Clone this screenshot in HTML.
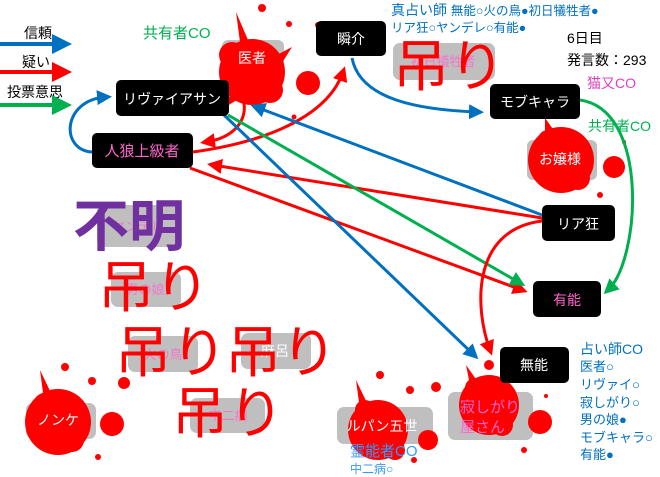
<!DOCTYPE html>
<html><head><meta charset="utf-8"><style>
html,body{margin:0;padding:0;background:#fff;}
svg{display:block;font-family:"Liberation Sans","Noto Sans CJK JP",sans-serif;}
</style></head><body>
<svg width="660" height="477" viewBox="0 0 660 477" xmlns="http://www.w3.org/2000/svg">
<defs>
<marker id="ab" markerWidth="5" markerHeight="5" refX="3" refY="2.5" orient="auto" markerUnits="strokeWidth"><path d="M0,0 L5,2.5 L0,5 z" fill="#0070c0"/></marker>
<marker id="ar" markerWidth="5" markerHeight="5" refX="3" refY="2.5" orient="auto" markerUnits="strokeWidth"><path d="M0,0 L5,2.5 L0,5 z" fill="#ff0000"/></marker>
<marker id="ag" markerWidth="5" markerHeight="5" refX="3" refY="2.5" orient="auto" markerUnits="strokeWidth"><path d="M0,0 L5,2.5 L0,5 z" fill="#00b050"/></marker>
</defs>

<g font-size="14" fill="#000">
<text x="24" y="38">信頼</text>
<text x="22" y="67">疑い</text>
<text x="7" y="97">投票意思</text>
</g>
<line x1="0" y1="44" x2="64" y2="44" stroke="#0070c0" stroke-width="4" marker-end="url(#ab)"/>
<line x1="0" y1="72" x2="64" y2="72" stroke="#ff0000" stroke-width="4" marker-end="url(#ar)"/>
<line x1="0" y1="105" x2="64" y2="105" stroke="#00b050" stroke-width="4" marker-end="url(#ag)"/>

<text x="143" y="38" font-size="15" fill="#00b050">共有者CO</text>

<g fill="#bfbfbf">
<rect x="222" y="40" width="62" height="46" rx="6"/>
<rect x="393" y="43" width="102" height="37" rx="7"/>
<rect x="527" y="140" width="70" height="40" rx="6"/>
<rect x="97" y="205" width="83" height="42" rx="7"/>
<rect x="111" y="272" width="70" height="35" rx="7"/>
<rect x="128" y="336" width="70" height="36" rx="7"/>
<rect x="241" y="333" width="70" height="36" rx="7"/>
<rect x="190" y="398" width="75" height="35" rx="7"/>
<rect x="26" y="403" width="70" height="36" rx="7"/>
<rect x="337" y="407" width="96" height="37" rx="7"/>
<rect x="448" y="392" width="85" height="48" rx="7"/>
</g>

<g fill="#ff0000">
<circle cx="252" cy="72" r="33"/><circle cx="232" cy="55" r="13"/><circle cx="270" cy="90" r="13"/>
<path d="M240,42 L236,12 L248,40z M275,56 L292,47 L280,66z M230,95 L224,108 L240,98z"/>
<circle cx="308" cy="83" r="12"/><circle cx="262" cy="8" r="4"/><circle cx="289" cy="24" r="3"/><circle cx="318" cy="25" r="3"/><circle cx="294" cy="117" r="2.5"/>

<circle cx="561" cy="160" r="33"/><circle cx="548" cy="140" r="10"/><circle cx="578" cy="178" r="12"/>
<path d="M545,135 L545,118 L555,132z"/>
<circle cx="614" cy="167" r="11"/><circle cx="600" cy="195" r="3"/><circle cx="624" cy="142" r="2"/>

<circle cx="58" cy="422" r="33"/><circle cx="45" cy="405" r="12"/><circle cx="72" cy="440" r="12"/>
<path d="M44,400 L40,370 L52,395z"/>
<circle cx="112" cy="424" r="12"/><circle cx="124" cy="383" r="6"/><circle cx="65" cy="367" r="4"/><circle cx="92" cy="381" r="4"/><circle cx="98" cy="457" r="3"/>

<circle cx="378" cy="430" r="30"/><circle cx="365" cy="410" r="10"/><circle cx="395" cy="450" r="10"/>
<path d="M360,410 L356,380 L368,405z"/>
<circle cx="428" cy="440" r="10"/><circle cx="380" cy="375" r="4"/><circle cx="410" cy="390" r="4"/><circle cx="436" cy="387" r="5"/><circle cx="414" cy="460" r="3"/>

<circle cx="489" cy="405" r="30"/><circle cx="475" cy="388" r="10"/><circle cx="502" cy="425" r="11"/>
<path d="M470,385 L466,365 L478,382z"/>
<circle cx="540" cy="422" r="12"/><circle cx="489" cy="365" r="5"/><circle cx="524" cy="450" r="3"/><circle cx="546" cy="396" r="2"/>
</g>

<g fill="none" stroke-width="3">
<path d="M92,152 C60,150 62,100 106,97" stroke="#0070c0" marker-end="url(#ab)"/>
<path d="M230,86 C252,95 252,135 206,142" stroke="#ff0000" marker-end="url(#ar)"/>
<path d="M193,152 C280,140 330,110 343,72" stroke="#ff0000" marker-end="url(#ar)"/>
<path d="M352,58 C360,100 420,110 478,112" stroke="#0070c0" marker-end="url(#ab)"/>
<path d="M580,100 C650,110 640,260 608,290" stroke="#00b050" marker-end="url(#ag)"/>
<path d="M542,215 L256,107" stroke="#0070c0" marker-end="url(#ab)"/>
<path d="M542,218 L213,165" stroke="#ff0000" marker-end="url(#ar)"/>
<path d="M190,168 L522,290" stroke="#ff0000" marker-end="url(#ar)"/>
<path d="M228,115 L520,283" stroke="#00b050" marker-end="url(#ag)"/>
<path d="M224,115 L474,355" stroke="#0070c0" marker-end="url(#ab)"/>
<path d="M542,221 C470,230 475,310 490,350" stroke="#ff0000" marker-end="url(#ar)"/>
</g>

<g fill="#000">
<rect x="316" y="21" width="70" height="35" rx="5"/>
<rect x="490" y="84" width="90" height="35" rx="5"/>
<rect x="116" y="80" width="113" height="36" rx="5"/>
<rect x="92" y="133" width="101" height="35" rx="5"/>
<rect x="542" y="205" width="73" height="36" rx="5"/>
<rect x="533" y="281" width="68" height="36" rx="5"/>
<rect x="500" y="347" width="69" height="36" rx="5"/>
</g>
<g font-size="14" fill="#fff" text-anchor="middle">
<text x="351" y="44">瞬介</text>
<text x="535" y="107">モブキャラ</text>
<text x="172" y="104">リヴァイアサン</text>
<text x="142" y="156" fill="#ff66cc" font-size="15">人狼上級者</text>
<text x="578" y="229">リア狂</text>
<text x="567" y="305" fill="#ff66cc">有能</text>
<text x="534" y="370">無能</text>
<text x="252" y="63">医者</text>
<text x="560" y="164">お嬢様</text>
<text x="58" y="425">ノンケ</text>
<text x="382" y="431">ルパン五世</text>
<text x="275" y="356">麻呂</text>
</g>
<g font-size="13" fill="#ff66cc" text-anchor="middle" opacity="0.8">
<text x="443" y="66">初日犠牲者</text>
<text x="138" y="231">ヤンデレ</text>
<text x="145" y="294">男の娘</text>
<text x="163" y="359">火の鳥</text>
<text x="228" y="420">中二病</text>
</g>
<g font-size="15" fill="#ff66cc">
<text x="460" y="412">寂しがり</text>
<text x="460" y="432">屋さん</text>
</g>

<text x="73" y="246" font-size="56" fill="#7030a0" font-weight="bold">不明</text>
<g font-size="56" fill="#ff0000">
<text x="393" y="86">吊り</text>
<text x="98" y="307">吊り</text>
<text x="115" y="372">吊り</text>
<text x="225" y="372">吊り</text>
<text x="172" y="433">吊り</text>
</g>

<g fill="#0070c0">
<text x="391" y="15" font-size="14">真占い師 <tspan font-size="12.5">無能○火の鳥●初日犠牲者●</tspan></text>
<text x="391" y="32" font-size="12.5">リア狂○ヤンデレ○有能●</text>
</g>
<g fill="#000" font-size="14">
<text x="567" y="43">6日目</text>
<text x="567" y="65">発言数：293</text>
</g>
<text x="587" y="88" font-size="14" fill="#e040c0">猫又CO</text>
<text x="588" y="131" font-size="14" fill="#00b050">共有者CO</text>
<g fill="#0070c0" font-size="13">
<text x="580" y="354" font-size="14">占い師CO</text>
<text x="580" y="371">医者○</text>
<text x="580" y="389">リヴァイ○</text>
<text x="580" y="407">寂しがり○</text>
<text x="580" y="424">男の娘●</text>
<text x="580" y="442">モブキャラ○</text>
<text x="580" y="459">有能●</text>
</g>
<text x="350" y="456" font-size="15" fill="#3399ff">霊能者CO</text>
<text x="350" y="473" font-size="12" fill="#3399ff">中二病○</text>
</svg>
</body></html>
